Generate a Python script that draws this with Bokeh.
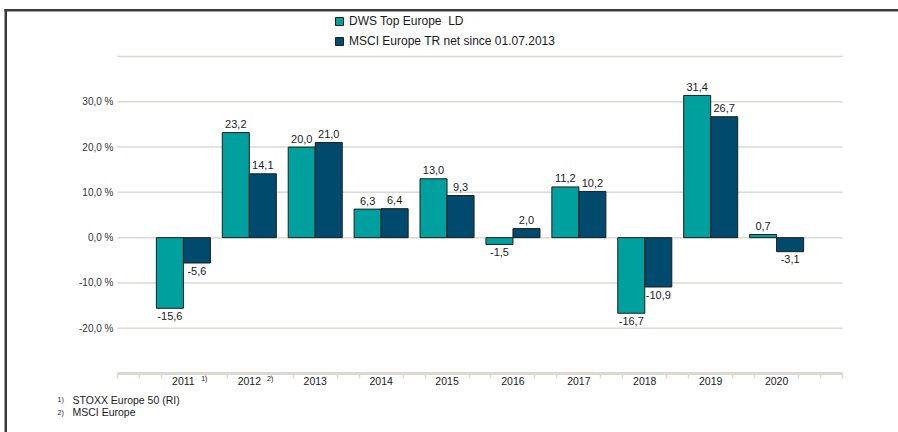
import numpy as np
from bokeh.plotting import figure
from bokeh.models import (FixedTicker, ColumnDataSource, Legend, LegendItem,
                          Label, BoxAnnotation, LinearAxis)
from bokeh.embed import file_html
from bokeh.resources import INLINE
from bokeh.core.properties import value

# ---------------- data ----------------
years = ["2011", "2012", "2013", "2014", "2015", "2016", "2017", "2018", "2019", "2020"]
year_marks = ["1)", "2)", "", "", "", "", "", "", "", ""]
dws = [-15.6, 23.2, 20.0, 6.3, 13.0, -1.5, 11.2, -16.7, 31.4, 0.7]
msci = [-5.6, 14.1, 21.0, 6.4, 9.3, 2.0, 10.2, -10.9, 26.7, -3.1]
series_names = ["DWS Top Europe  LD", "MSCI Europe TR net since 01.07.2013"]
y_ticks = [-20, -10, 0, 10, 20, 30]
grid_ticks = [-30, -20, -10, 0, 10, 20, 30, 40]
footnote_marks = ["1)", "2)"]
footnote_texts = ["STOXX Europe 50 (RI)", "MSCI Europe"]

# ---------------- layout ----------------
W, H = 898, 432
L, R, T, B = 117, 56, 56, 59          # plotting area inside the canvas
X0, X1 = 0, len(years) + 1
Y0, Y1 = -30, 40
FW, FH = W - L - R, H - T - B

def cx(px):
    return X0 + (px - L) / FW * (X1 - X0)

def cy(py):
    return Y1 - (py - T) / FH * (Y1 - Y0)

FONT = "Liberation Sans"
C_DWS = "#00A09E"
C_MSCI = "#004A6E"
C_EDGE = "#1e1e1e"
C_GRID = "#dcd8d2"
C_TEXT = "#1a1a1a"

p = figure(width=W, height=H, x_range=(cx(0), cx(W)), y_range=(cy(H), cy(0)),
           output_backend="svg", toolbar_location=None,
           x_axis_location=None, y_axis_location=None,
           min_border_left=0, min_border_right=0, min_border_top=0, min_border_bottom=0)
p.outline_line_color = None
p.background_fill_color = "white"
p.border_fill_color = "white"
p.xgrid.visible = False
p.ygrid.visible = False

# grid lines
p.segment(x0=[X0] * len(grid_ticks), x1=[X1] * len(grid_ticks), y0=grid_ticks, y1=grid_ticks,
          line_color=C_GRID, line_width=1.5)

idx = np.arange(1, len(years) + 1)
bw = 0.41
src = ColumnDataSource(dict(x1=idx - bw / 2, x2=idx + bw / 2, dws=dws, msci=msci))
r1 = p.vbar(x="x1", top="dws", bottom=0, width=bw, source=src,
            fill_color=C_DWS, line_color=C_EDGE, line_width=1)
r2 = p.vbar(x="x2", top="msci", bottom=0, width=bw, source=src,
            fill_color=C_MSCI, line_color=C_EDGE, line_width=1)

# value labels
lx, ly, lt, lb = [], [], [], []
for xs, vals in ((idx - bw / 2, dws), (idx + bw / 2, msci)):
    for x, v in zip(xs, vals):
        lx.append(x)
        ly.append(v + 1.0 if v >= 0 else v - 0.8)
        lt.append(f"{v:.1f}".replace(".", ","))
        lb.append("bottom" if v >= 0 else "top")
p.text(x=lx, y=ly, text=lt, text_baseline=lb, text_align="center",
       text_font=value(FONT), text_font_size="11px", text_color=C_TEXT)

# y axis (drawn at x = 0)
yax = LinearAxis(fixed_location=X0)
yax.ticker = FixedTicker(ticks=y_ticks)
yax.major_label_overrides = {t: f"{t:.1f}".replace(".", ",") + " %" for t in y_ticks}
yax.axis_line_color = None
yax.major_tick_line_color = None
yax.minor_tick_line_color = None
yax.major_tick_out = 0
yax.major_tick_in = 0
yax.major_label_standoff = 4
yax.major_label_text_font = FONT
yax.major_label_text_font_size = "10px"
yax.major_label_text_color = "#333333"
p.add_layout(yax, "left")

# x axis (drawn at y = -30)
minor = []
for k in range(0, len(years) + 1):
    minor += [k + 1 / 3, k + 2 / 3]
minor += [X0, X1]
xax = LinearAxis(fixed_location=Y0, bounds=(X0, X1))
xax.ticker = FixedTicker(ticks=list(idx), minor_ticks=minor)
xax.major_label_overrides = {int(i): y for i, y in zip(idx, years)}
xax.axis_line_color = C_GRID
xax.axis_line_width = 3
xax.major_tick_line_color = None
xax.major_tick_out = 0
xax.major_tick_in = 0
xax.minor_tick_line_color = C_GRID
xax.minor_tick_line_width = 1.5
xax.minor_tick_out = 5
xax.minor_tick_in = 0
xax.major_label_standoff = -2
xax.major_label_text_font = FONT
xax.major_label_text_font_size = "10.5px"
xax.major_label_text_color = C_TEXT
p.add_layout(xax, "below")

# superscripts on year labels
for i, m in zip(idx, year_marks):
    if m:
        p.add_layout(Label(x=i + 0.27, y=cy(377.5), text=m, text_font=FONT,
                           text_font_size="7px", text_color=C_TEXT,
                           text_baseline="middle", text_align="left"))

# legend
legend = Legend(items=[LegendItem(label=series_names[0], renderers=[r1]),
                       LegendItem(label=series_names[1], renderers=[r2])],
                location=(334, H - 48), orientation="vertical",
                glyph_width=10, glyph_height=10, label_standoff=5,
                label_text_font=FONT, label_text_font_size="12px",
                label_text_color=C_TEXT, label_height=12,
                spacing=6, padding=0, margin=0,
                border_line_color=None, background_fill_alpha=0)
p.add_layout(legend, "center")

# footnotes
for j, (m, t) in enumerate(zip(footnote_marks, footnote_texts)):
    yy = cy(399 + 12.5 * j)
    p.add_layout(Label(x=cx(57), y=yy, text=m, text_font=FONT, text_font_size="7px",
                       text_color=C_TEXT, text_baseline="middle"))
    p.add_layout(Label(x=cx(72), y=yy, text=t, text_font=FONT, text_font_size="10.5px",
                       text_color=C_TEXT, text_baseline="middle"))

# frame lines
p.add_layout(BoxAnnotation(left=cx(4), right=cx(905), top=cy(8.5), bottom=cy(11),
                           fill_color="#3a3a3a", fill_alpha=1, line_color=None))
p.add_layout(BoxAnnotation(left=cx(4), right=cx(6.5), top=cy(8.5), bottom=cy(440),
                           fill_color="#3a3a3a", fill_alpha=1, line_color=None))

open("out.html", "w").write(file_html(p, INLINE))
